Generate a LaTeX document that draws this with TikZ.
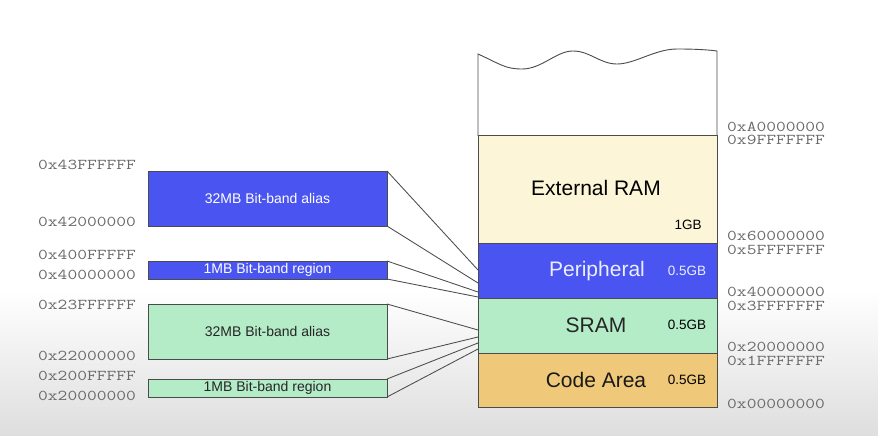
\documentclass[tikz,border=0pt]{standalone}
\usepackage{fontspec}
\setmainfont{Liberation Sans}
\definecolor{bandblue}{RGB}{74,84,240}
\definecolor{bandgreen}{RGB}{180,236,200}
\definecolor{ramcream}{RGB}{253,245,216}
\definecolor{codeorange}{RGB}{240,200,122}
\definecolor{edgegray}{RGB}{75,75,75}
\definecolor{addrgray}{RGB}{105,105,105}
\definecolor{periphtext}{RGB}{235,238,255}
\begin{document}
\begin{tikzpicture}[x=1pt,y=-1pt,
  region/.style={draw=edgegray, line width=0.9pt, anchor=north west, inner sep=0pt, outer sep=0pt, minimum width=239pt},
  addr/.style={anchor=west, text=addrgray, inner sep=0pt, font=\fontsize{15}{15}\ttfamily},
  big/.style={font=\fontsize{21}{21}\selectfont},
  small/.style={font=\fontsize{13.5}{13.5}\selectfont},
  boxtext/.style={font=\fontsize{14}{14}\selectfont},
  link/.style={draw=edgegray, line width=0.85pt}]
\useasboundingbox (0,0) rectangle (878,436);
% background
\fill[white] (0,0) rectangle (878,292);
\shade[top color=white, bottom color=black!13] (0,290) rectangle (878,436);

% memory map, open top
\draw[edgegray, line width=0.9pt, fill=white] (478,136) -- (478,54)
  .. controls (500,64) and (505,69) .. (522,69)
  .. controls (542,69) and (556,51) .. (573,51)
  .. controls (590,51) and (600,64) .. (617,64)
  .. controls (635,64) and (655,49) .. (677,49)
  .. controls (697,49) and (710,50) .. (717,51)
  -- (717,136);
\node[region, fill=ramcream, minimum height=108pt] (ram) at (478,135) {};
\node[region, fill=bandblue, minimum height=55pt] (periph) at (478,243) {};
\node[region, fill=bandgreen, minimum height=55pt] (sram) at (478,298) {};
\node[region, fill=codeorange, minimum height=54pt] (code) at (478,353) {};

\node[big] (ramlabel) at (596,188) {External RAM};
\node[small] (ramsize) at (688,225) {1GB};
\node[big, text=periphtext] (periphlabel) at (597,271) {Peripheral};
\node[small, text=periphtext] (periphsize) at (687,271) {0.5GB};
\node[big, text=black!85] (sramlabel) at (596,325) {SRAM};
\node[small] (sramsize) at (687,325) {0.5GB};
\node[big, text=black!90] (codelabel) at (596,380) {Code Area};
\node[small] (codesize) at (687,380) {0.5GB};

% bit-band boxes
\node[region, fill=bandblue, minimum height=55pt] (balias) at (148,171) {};
\node[boxtext, text=white] (baliaslabel) at (balias.center) {32MB Bit-band alias};
\node[region, fill=bandblue, minimum height=18pt] (bregion) at (148,261) {};
\node[boxtext, text=white] (bregionlabel) at (bregion.center) {1MB Bit-band region};
\node[region, fill=bandgreen, minimum height=55pt] (galias) at (148,304) {};
\node[boxtext, text=black!85] (galiaslabel) at (galias.center) {32MB Bit-band alias};
\node[region, fill=bandgreen, minimum height=18pt] (gregion) at (148,379) {};
\node[boxtext, text=black!85] (gregionlabel) at (gregion.center) {1MB Bit-band region};

% connector end points on the map
\coordinate (pa1) at (478,270);
\coordinate (pa2) at (478,283);
\coordinate (pr1) at (478,292);
\coordinate (pr2) at (478,297);
\coordinate (sa1) at (478,330);
\coordinate (sa2) at (478,337);
\coordinate (sr1) at (478,343);
\coordinate (sr2) at (478,349);
\draw[link] (balias.north east) -- (pa1);
\draw[link] (balias.south east) -- (pa2);
\draw[link] (bregion.north east) -- (pr1);
\draw[link] (bregion.south east) -- (pr2);
\draw[link] (galias.north east) -- (sa1);
\draw[link] (galias.south east) -- (sa2);
\draw[link] (gregion.north east) -- (sr1);
\draw[link] (gregion.south east) -- (sr2);

% left addresses
\node[addr] (l1) at (38,165) {\scalebox{1.265}[1]{0x43FFFFFF}};
\node[addr] (l2) at (38,222) {\scalebox{1.265}[1]{0x42000000}};
\node[addr] (l3) at (38,255) {\scalebox{1.265}[1]{0x400FFFFF}};
\node[addr] (l4) at (38,275) {\scalebox{1.265}[1]{0x40000000}};
\node[addr] (l5) at (38,305) {\scalebox{1.265}[1]{0x23FFFFFF}};
\node[addr] (l6) at (38,356) {\scalebox{1.265}[1]{0x22000000}};
\node[addr] (l7) at (38,376) {\scalebox{1.265}[1]{0x200FFFFF}};
\node[addr] (l8) at (38,396) {\scalebox{1.265}[1]{0x20000000}};

% right addresses
\node[addr] (r1) at (727,126.5) {\scalebox{1.265}[1]{0xA0000000}};
\node[addr] (r2) at (727,140) {\scalebox{1.265}[1]{0x9FFFFFFF}};
\node[addr] (r3) at (727,236) {\scalebox{1.265}[1]{0x60000000}};
\node[addr] (r4) at (727,249.5) {\scalebox{1.265}[1]{0x5FFFFFFF}};
\node[addr] (r5) at (727,292) {\scalebox{1.265}[1]{0x40000000}};
\node[addr] (r6) at (727,305.5) {\scalebox{1.265}[1]{0x3FFFFFFF}};
\node[addr] (r7) at (727,347) {\scalebox{1.265}[1]{0x20000000}};
\node[addr] (r8) at (727,360.5) {\scalebox{1.265}[1]{0x1FFFFFFF}};
\node[addr] (r9) at (727,404) {\scalebox{1.265}[1]{0x00000000}};
\end{tikzpicture}
\end{document}
